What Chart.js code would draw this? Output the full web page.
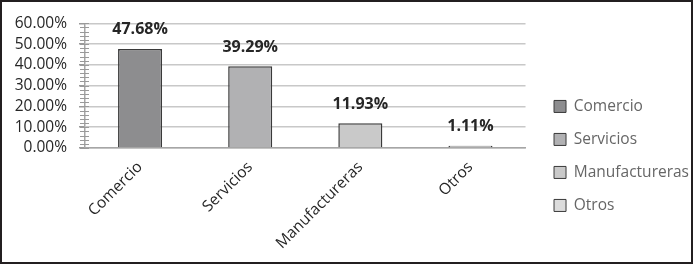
<!DOCTYPE html>
<html>
<head>
<meta charset="utf-8">
<script src="https://cdn.jsdelivr.net/npm/chart.js@4.4.0/dist/chart.umd.min.js"></script>
<style>
  html, body { margin:0; padding:0; background:#fff; }
  #wrap { width:693px; height:264px; border:2px solid #231f20; box-sizing:border-box; }
  canvas { display:block; }
</style>
</head>
<body>
<div id="wrap"><canvas id="chart" width="689" height="260"></canvas></div>
<script>

const categories = ['Comercio', 'Servicios', 'Manufactureras', 'Otros']
const shares     = [47.68, 39.29, 11.93, 1.11]
const barColors  = ['#8d8d8f', '#b1b1b3', '#c9c9c9', '#dcdcdc']
const yStep      = 10
const yMax       = 60

const FONT = "'Open Sans', sans-serif"
const pct = (v)=> v.toFixed(2) + '%'


// value labels above every bar
const valueLabels = {
      id: 'valueLabels',
      afterDatasetsDraw(chart){
            const ctx = chart.ctx
            const meta = chart.getDatasetMeta(0)
            ctx.save()
            ctx.font = 'bold 16px ' + FONT
            ctx.fillStyle = '#262626'
            ctx.textAlign = 'center'
            ctx.textBaseline = 'middle'
            meta.data.forEach((bar, i)=>{
                  ctx.fillText(pct(shares[i]), bar.x, bar.y - 19)
            })
            ctx.restore()
      }
}

// minor tick marks crossing the value axis
const minorTicks = {
      id: 'minorTicks',
      afterDraw(chart){
            const y = chart.scales.y
            const ctx = chart.ctx
            const x0 = chart.chartArea.left
            ctx.save()
            ctx.strokeStyle = '#9a9a9a'
            ctx.lineWidth = 1
            for(let v = 0; v <= yMax + 0.001; v += 2){
                  const py = Math.round(y.getPixelForValue(v)) + 0.5
                  ctx.beginPath()
                  ctx.moveTo(x0 - 5, py)
                  ctx.lineTo(x0 + 4, py)
                  ctx.stroke()
            }
            ctx.restore()
      }
}


const setup = {
      type: 'bar',
      data: {
            labels: categories,
            datasets: [{
                  label: '',
                  data: shares,
                  backgroundColor: barColors,
                  borderColor: '#3a3a3a',
                  borderWidth: 1.5,
                  categoryPercentage: 1,
                  barPercentage: 0.4,
            }]
      },
      options: {
            responsive: false,
            animation: false,
            layout: { padding: { top: 18, left: 0, right: -8, bottom: 0 } },
            plugins: {
                  tooltip: { enabled: false },
                  legend: {
                        display: true,
                        position: 'right',
                        align: 'start',
                        maxWidth: 220,
                        title: { display: true, text: ' ', font: { size: 1 }, padding: { top: 60, bottom: 0 } },
                        labels: {
                              boxWidth: 12,
                              boxHeight: 12,
                              padding: 17.5,
                              color: '#262626',
                              font: { family: FONT, size: 15.5 },
                              generateLabels: (chart)=> categories.map((c, i)=>({
                                    text: c,
                                    fillStyle: barColors[i],
                                    strokeStyle: '#3a3a3a',
                                    lineWidth: 1,
                                    index: i,
                              })),
                        }
                  },
            },
            scales: {
                  x: {
                        grid: { display: false },
                        border: { display: true, color: '#a6a6a6', width: 1.5 },
                        ticks: {
                              color: '#262626',
                              font: { family: FONT, size: 15.5 },
                              minRotation: 45,
                              maxRotation: 45,
                              padding: 2,
                        },
                        afterFit: (s)=>{ s.height = 114 },
                  },
                  y: {
                        min: 0,
                        max: yMax,
                        grid: { color: '#c8c8c8', lineWidth: 1.5, tickLength: 6, tickColor: '#9a9a9a' },
                        border: { display: true, color: '#a6a6a6', width: 1.5 },
                        ticks: {
                              stepSize: yStep,
                              autoSkip: false,
                              color: '#262626',
                              font: { family: FONT, size: 15.5 },
                              padding: 12,
                              callback: (v)=> pct(v),
                        },
                        afterFit: (s)=>{ s.width = 83 },
                  },
                  gap: {
                        position: 'right',
                        display: true,
                        grid: { display: false },
                        border: { display: false },
                        ticks: { display: false },
                        afterFit: (s)=>{ s.width = 11 },
                  },
            }
      },
      plugins: [valueLabels, minorTicks]
}

new Chart(document.getElementById('chart'), setup)

</script>
</body>
</html>
